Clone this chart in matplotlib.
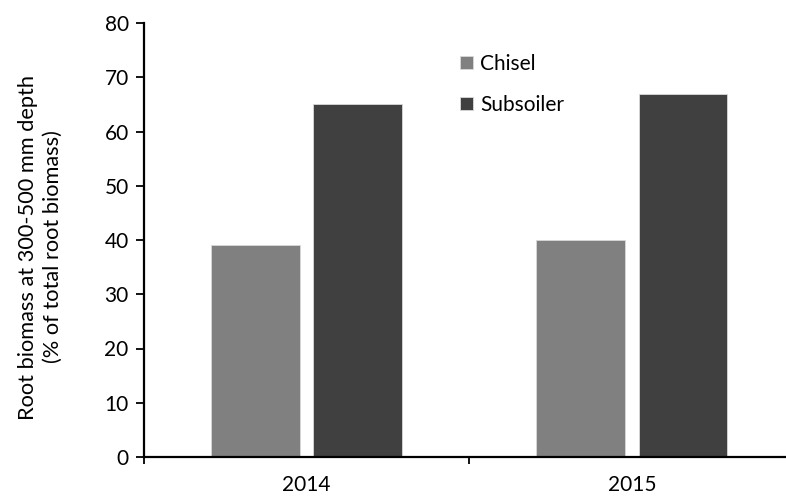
import matplotlib
matplotlib.use("Agg")
import matplotlib.pyplot as plt
import numpy as np

years = ["2014", "2015"]
series_names = ["Chisel", "Subsoiler"]
chisel = [39, 40]
subsoiler = [65, 67]
yticks = [0, 10, 20, 30, 40, 50, 60, 70, 80]

plt.rcParams['font.family'] = ['Lato', 'DejaVu Sans']
FS = 15

fig = plt.figure(figsize=(7.86, 4.97), dpi=100)
W, H = 786, 497
left, right, bottom, top = 144, 794.6, 457, 23
ax = fig.add_axes([left / W, (H - bottom) / H, (right - left) / W, (bottom - top) / H])

x = np.arange(len(years))
bw = 0.273
off = 0.157
ax.bar(x - off, chisel, bw, color="#808080", edgecolor="#d9d9d9", linewidth=0.6, label=series_names[0], zorder=2)
ax.bar(x + off, subsoiler, bw, color="#404040", edgecolor="#d9d9d9", linewidth=0.6, label=series_names[1], zorder=2)

ax.set_xlim(-0.5, 1.5)
ax.set_ylim(0, 80)
ax.set_yticks(yticks)
ax.tick_params(axis='y', direction='out', length=6, width=1.3, labelsize=FS, pad=5)

ax.set_xticks([-0.5, 0.5, 1.5])
ax.set_xticklabels([])
ax.set_xticks(x, minor=True)
ax.set_xticklabels(years, minor=True)
ax.tick_params(axis='x', which='major', direction='out', length=5, width=1.3)
ax.tick_params(axis='x', which='minor', length=0, labelsize=FS, pad=13)

for s in ['top', 'right']:
    ax.spines[s].set_visible(False)
for s in ['left', 'bottom']:
    ax.spines[s].set_linewidth(1.6)

fig.text(40 / W, 1 - 247 / H, "Root biomass at 300-500 mm depth\n(% of total root biomass)",
         rotation=90, ha='center', va='center', multialignment='center', fontsize=15.7, linespacing=1.3)

leg = ax.legend(loc='upper left', bbox_to_anchor=((460 - left) / (right - left), (bottom - 54) / (bottom - top)),
                frameon=False, fontsize=FS, borderpad=0, borderaxespad=0,
                handlelength=0.62, handleheight=0.62, handletextpad=0.35, labelspacing=1.0)

fig.savefig("out.png", dpi=100)
